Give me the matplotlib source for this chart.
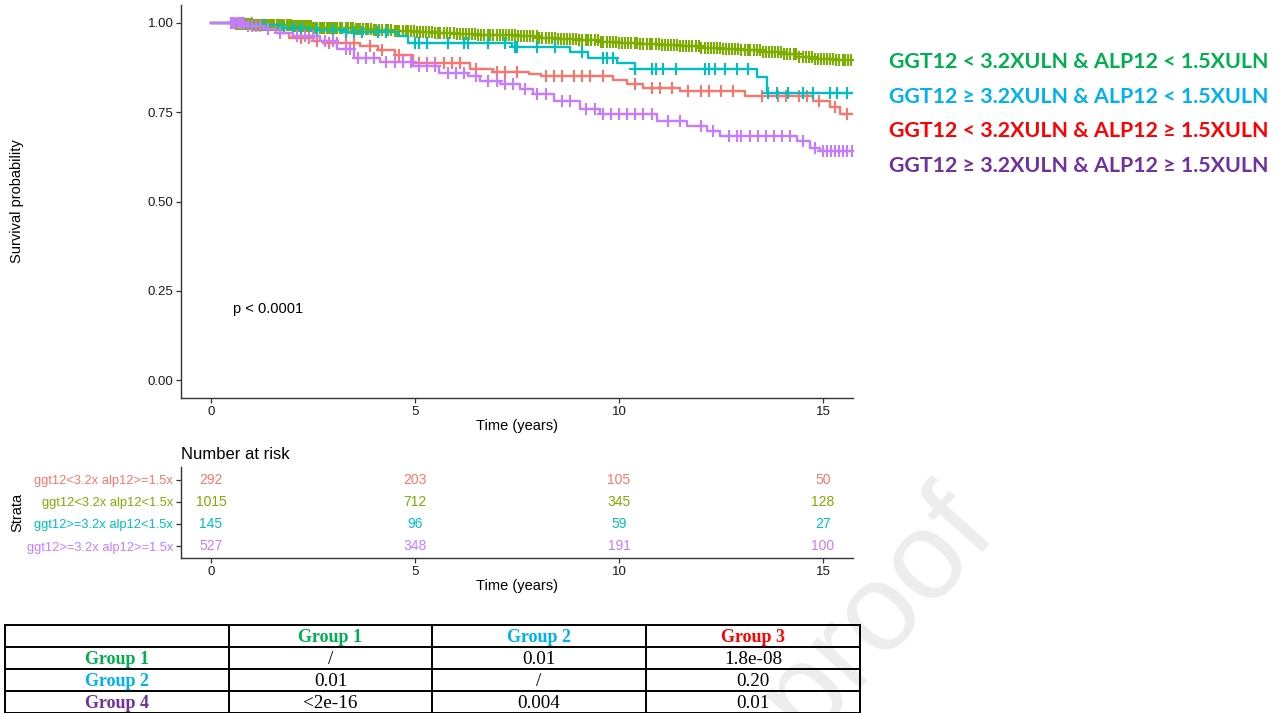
import matplotlib
matplotlib.use("Agg")
import matplotlib.pyplot as plt
import numpy as np

plt.rcParams["font.family"] = ["Liberation Sans", "DejaVu Sans"]

W, H = 1281, 713

# Kaplan-Meier step functions (time in years, survival probability)
red_t = [0, 1.1, 1.7, 1.9, 2.5, 2.75, 3.65, 4.1, 4.5, 4.95, 6.35, 6.9, 7.8, 8.1,
         9.85, 10.2, 10.6, 11.5, 13.1, 14.75, 15.17, 15.42]
red_s = [1.0, 0.986, 0.972, 0.958, 0.95, 0.944, 0.936, 0.925, 0.91, 0.888, 0.872,
         0.863, 0.857, 0.85, 0.84, 0.829, 0.818, 0.81, 0.796, 0.782, 0.765, 0.746]
red_cens = [0.6, 1.0, 1.4, 2.2, 2.4, 2.6, 2.9, 3.1, 3.3, 3.5, 3.9, 4.2, 4.6, 5.1,
            5.3, 5.5, 5.7, 5.9, 6.1, 6.5, 7.0, 7.2, 7.5, 8.2, 8.4, 8.6, 8.9, 9.1,
            9.3, 9.6, 10.4, 10.8, 11.0, 11.3, 11.7, 12.0, 12.2, 12.5, 12.8, 13.5,
            13.9, 14.1, 14.4, 14.6, 14.9, 15.3, 15.6]

green_t = [0, 0.6, 1.0, 1.5, 2.0, 2.5, 3.0, 3.5, 4.0, 4.5, 5.0, 5.5, 6.0, 6.5, 7.0,
           7.5, 8.0, 8.5, 9.0, 9.5, 10.0, 10.5, 11.0, 11.5, 12.0, 12.5, 13.0, 13.5,
           14.0, 14.4, 14.8, 15.3]
green_s = [1.0, 0.998, 0.995, 0.993, 0.99, 0.987, 0.985, 0.982, 0.979, 0.977, 0.975,
           0.973, 0.97, 0.967, 0.965, 0.962, 0.958, 0.955, 0.951, 0.947, 0.943, 0.94,
           0.937, 0.934, 0.93, 0.927, 0.923, 0.918, 0.912, 0.905, 0.9, 0.897]
green_cens = [0.52, 0.55, 0.58, 0.62, 0.66, 0.7, 0.74, 0.78, 0.82, 0.85, 0.9, 0.95,
              0.98, 1.02, 1.06, 1.1, 1.15, 1.2, 1.24, 1.28, 1.35, 1.4, 1.45, 1.5,
              1.55, 1.62, 1.66, 1.7, 1.75, 1.8, 1.86, 1.9, 1.95, 2.0, 2.05, 2.1, 2.16,
              2.2, 2.25, 2.3, 2.36, 2.4, 2.45, 2.5, 2.55, 2.6, 2.66, 2.72, 2.78,
              2.85, 2.9, 2.95, 3.0, 3.05, 3.1, 3.15, 3.22, 3.3, 3.36, 3.42, 3.48,
              3.55, 3.6, 3.65, 3.72, 3.8, 3.86, 3.92, 4.0, 4.05, 4.12, 4.2, 4.28,
              4.35, 4.42, 4.5, 4.56, 4.62, 4.7, 4.78, 4.84, 4.9, 4.98, 5.05, 5.12,
              5.2, 5.28, 5.35, 5.42, 5.5, 5.56, 5.62, 5.7, 5.78, 5.86, 5.95, 6.02,
              6.1, 6.18, 6.25, 6.32, 6.4, 6.48, 6.55, 6.62, 6.7, 6.78, 6.85, 6.92,
              7.0, 7.08, 7.15, 7.22, 7.3, 7.38, 7.45, 7.52, 7.6, 7.68, 7.75, 7.82,
              7.9, 7.98, 8.05, 8.12, 8.2, 8.28, 8.35, 8.42, 8.5, 8.58, 8.65, 8.72,
              8.8, 8.88, 8.95, 9.02, 9.1, 9.18, 9.25, 9.32, 9.4, 9.48, 9.55, 9.62,
              9.7, 9.78, 9.85, 9.92, 10.0, 10.08, 10.15, 10.22, 10.3, 10.38, 10.45,
              10.52, 10.6, 10.68, 10.75, 10.82, 10.9, 10.98, 11.05, 11.12, 11.2,
              11.28, 11.35, 11.42, 11.5, 11.58, 11.65, 11.72, 11.8, 11.88, 11.95,
              12.02, 12.1, 12.18, 12.25, 12.32, 12.4, 12.48, 12.55, 12.62, 12.7,
              12.78, 12.85, 12.92, 13.0, 13.08, 13.15, 13.22, 13.3, 13.38, 13.45,
              13.52, 13.6, 13.68, 13.75, 13.82, 13.9, 13.98, 14.05, 14.12, 14.2,
              14.28, 14.35, 14.42, 14.5, 14.58, 14.65, 14.72, 14.8, 14.88, 14.95,
              15.02, 15.1, 15.18, 15.25, 15.32, 15.4, 15.48, 15.55, 15.62, 15.68]

cyan_t = [0, 0.9, 1.7, 2.4, 3.3, 4.58, 4.83, 7.38, 8.8, 9.24, 9.95, 10.4, 13.38, 13.63]
cyan_s = [1.0, 0.993, 0.986, 0.979, 0.975, 0.962, 0.945, 0.932, 0.919, 0.902, 0.888,
          0.872, 0.849, 0.804]
cyan_cens = [0.5, 0.7, 1.0, 1.3, 1.8, 2.0, 2.2, 2.6, 3.0, 3.3, 3.5, 3.7, 4.1, 4.3,
             5.0, 5.1, 5.3, 5.8, 6.2, 6.3, 6.8, 7.2, 7.45, 7.5, 8.0, 8.43, 9.1, 9.6,
             9.7, 9.85, 10.4, 10.8, 10.9, 11.08, 11.4, 12.1, 12.2, 12.35, 12.6, 12.9,
             13.17, 13.65, 13.87, 14.15, 14.5, 14.75, 15.17, 15.34, 15.6]

purple_t = [0, 0.88, 1.3, 1.6, 2.0, 2.67, 3.1, 3.5, 4.14, 4.95, 5.6, 6.3, 6.6, 7.08,
            7.57, 7.9, 8.4, 9.05, 9.53, 10.93, 11.67, 12.16, 12.48, 14.36, 14.68, 14.93]
purple_s = [1.0, 0.99, 0.983, 0.972, 0.964, 0.95, 0.927, 0.902, 0.891, 0.88, 0.86,
            0.852, 0.838, 0.829, 0.815, 0.80, 0.782, 0.76, 0.746, 0.726, 0.712, 0.698,
            0.682, 0.67, 0.651, 0.642]
purple_cens = [0.5, 0.55, 0.6, 0.65, 0.7, 0.75, 0.8, 0.9, 1.0, 1.1, 1.2, 1.4, 1.7, 2.1,
               2.3, 2.5, 2.8, 3.0, 3.3, 3.4, 3.6, 3.8, 4.0, 4.3, 4.5, 4.7, 4.9, 5.1,
               5.3, 5.5, 5.8, 6.0, 6.2, 6.5, 6.8, 7.0, 7.2, 7.4, 7.7, 8.0, 8.2, 8.6,
               8.8, 9.2, 9.4, 9.6, 9.8, 10.0, 10.2, 10.4, 10.6, 10.8, 11.2, 11.5, 12.0,
               12.3, 12.7, 12.9, 13.0, 13.2, 13.4, 13.6, 13.8, 14.0, 14.2, 14.5, 14.8,
               15.0, 15.1, 15.2, 15.3, 15.4, 15.5, 15.6, 15.7]

t_end = 15.73

strata = ["ggt12<3.2x alp12>=1.5x", "ggt12<3.2x alp12<1.5x",
          "ggt12>=3.2x alp12<1.5x", "ggt12>=3.2x alp12>=1.5x"]
strata_colors = ["#F8766D", "#7CAE00", "#00BFC4", "#C77CFF"]

risk_times = [0, 5, 10, 15]
risk_red = [292, 203, 105, 50]
risk_green = [1015, 712, 345, 128]
risk_cyan = [145, 96, 59, 27]
risk_purple = [527, 348, 191, 100]

legend_labels = ["GGT12 < 3.2XULN & ALP12 < 1.5XULN",
                 "GGT12 \u2265 3.2XULN & ALP12 < 1.5XULN",
                 "GGT12 < 3.2XULN & ALP12 \u2265 1.5XULN",
                 "GGT12 \u2265 3.2XULN & ALP12 \u2265 1.5XULN"]
legend_colors = ["#00B050", "#00B0F0", "#FF0000", "#7030A0"]

# pairwise log-rank p-values
col_heads = ["Group 1", "Group 2", "Group 3"]
col_head_colors = ["#00B050", "#00B0F0", "#FF0000"]
row_heads = ["Group 1", "Group 2", "Group 4"]
row_head_colors = ["#00B050", "#00B0F0", "#7030A0"]
pvals = [["/", "0.01", "1.8e-08"],
         ["0.01", "/", "0.20"],
         ["<2e-16", "0.004", "0.01"]]


def surv_at(times, surv, t):
    idx = np.searchsorted(times, t, side="right") - 1
    return np.asarray(surv)[idx]


fig = plt.figure(figsize=(W / 100, H / 100), dpi=100)


def px_axes(left, top, right, bottom):
    return fig.add_axes([left / W, 1 - bottom / H, (right - left) / W, (bottom - top) / H])


def style_axis(ax):
    for side in ("top", "right"):
        ax.spines[side].set_visible(False)
    for side in ("left", "bottom"):
        ax.spines[side].set_linewidth(1.0)
        ax.spines[side].set_color("#333333")
    ax.tick_params(length=3.5, width=0.9, color="#333333", labelsize=9.5,
                   labelcolor="#1a1a1a", pad=2)


# survival curves
ax = px_axes(181, 5, 853, 398)
curves = [(red_t, red_s, red_cens), (green_t, green_s, green_cens),
          (cyan_t, cyan_s, cyan_cens), (purple_t, purple_s, purple_cens)]
for (t, s, cens), col in zip(curves, strata_colors):
    ax.step(np.append(t, t_end), np.append(s, s[-1]), where="post", color=col, lw=1.7)
    ax.plot(cens, surv_at(t, s, cens), "+", color=col, ms=8, mew=1.5)
ax.set_xlim(-0.735, 15.735)
ax.set_ylim(-0.05, 1.05)
ax.set_xticks([0, 5, 10, 15])
ax.set_yticks([0, 0.25, 0.5, 0.75, 1.0])
ax.set_yticklabels(["0.00", "0.25", "0.50", "0.75", "1.00"])
style_axis(ax)
ax.set_xlabel("Time (years)", fontsize=10.5, labelpad=1)
ax.set_ylabel("Survival probability", fontsize=10.5)
ax.yaxis.set_label_coords(-(181 - 24) / 672, 0.5)
ax.text(0.54, 0.2, "p < 0.0001", fontsize=10.5, ha="left", va="center")

# number at risk table
ax2 = px_axes(181, 467, 853, 558)
risk = [risk_red, risk_green, risk_cyan, risk_purple]
for row, (counts, col) in enumerate(zip(risk, strata_colors), start=1):
    for tm, n in zip(risk_times, counts):
        ax2.text(tm, row, str(n), color=col, fontsize=10, ha="center", va="center")
ax2.set_xlim(-0.735, 15.735)
ax2.set_ylim(4.545, 0.41)
ax2.set_xticks(risk_times)
ax2.set_yticks([1, 2, 3, 4])
style_axis(ax2)
ax2.set_yticklabels(strata, fontsize=9.3)
for lab, col in zip(ax2.get_yticklabels(), strata_colors):
    lab.set_color(col)
ax2.set_xlabel("Time (years)", fontsize=10.5, labelpad=1)
ax2.set_ylabel("Strata", fontsize=10.5)
ax2.yaxis.set_label_coords(-(181 - 24) / 672, 0.5)
ax2.set_title("Number at risk", fontsize=12, loc="left", pad=6)

# overlay in pixel coordinates: legend text, p-value table, watermark
ov = fig.add_axes([0, 0, 1, 1])
ov.set_xlim(0, W)
ov.set_ylim(H, 0)
ov.axis("off")
ov.patch.set_visible(False)

ov.text(878, 612, "proof", fontsize=90, color="#ededed", rotation=48,
        ha="center", va="center", zorder=0)

for i, (lab, col) in enumerate(zip(legend_labels, legend_colors)):
    ov.text(889, 62 + 34.7 * i, lab, color=col, fontsize=15.4, fontweight="bold",
            family=["Lato", "DejaVu Sans"], ha="left", va="center")

col_x = [5, 229, 432, 646, 860]
row_y = [625, 647, 669, 691, 713]
for y in row_y:
    ov.plot([col_x[0], col_x[-1]], [y, y], color="black", lw=1.4, zorder=2)
for x in col_x:
    ov.plot([x, x], [row_y[0], H + 5], color="black", lw=1.4, zorder=2)

serif = ["Liberation Serif", "DejaVu Serif"]
for j, (txt, col) in enumerate(zip(col_heads, col_head_colors)):
    ov.text((col_x[j + 1] + col_x[j + 2]) / 2, 638, txt, color=col, fontsize=13,
            fontweight="bold", family=serif, ha="center", va="center", zorder=3)
for i, (txt, col) in enumerate(zip(row_heads, row_head_colors)):
    yc = (row_y[i + 1] + row_y[i + 2]) / 2 + 2
    ov.text((col_x[0] + col_x[1]) / 2, yc, txt, color=col, fontsize=13,
            fontweight="bold", family=serif, ha="center", va="center", zorder=3)
    for j, val in enumerate(pvals[i]):
        ov.text((col_x[j + 1] + col_x[j + 2]) / 2, yc, val, color="black",
                fontsize=13.8, family=serif, ha="center", va="center", zorder=3)

fig.savefig("out.png", dpi=100)
